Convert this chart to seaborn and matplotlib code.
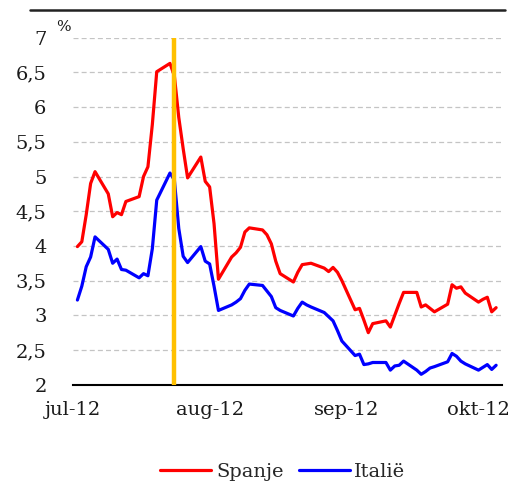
import pandas as pd
import matplotlib
matplotlib.use("Agg")
import matplotlib.pyplot as plt
import seaborn as sns
from matplotlib.lines import Line2D

# rente (%) per handelsdag, jul - okt 2012
dagen = pd.bdate_range("2012-07-02", "2012-10-05")

spanje = [
    3.99, 4.06, 4.45, 4.90, 5.07,
    4.75, 4.42, 4.48, 4.45, 4.64,
    4.71, 5.00, 5.14, 5.75, 6.51,
    6.63, 6.45, 5.85, 5.40, 4.98,
    5.28, 4.93, 4.85, 4.32, 3.52,
    3.84, 3.90, 3.98, 4.20, 4.26,
    4.23, 4.16, 4.03, 3.78, 3.60,
    3.48, 3.62, 3.73, 3.74, 3.75,
    3.68, 3.63, 3.69, 3.62, 3.50,
    3.08, 3.10, 2.93, 2.75, 2.88,
    2.92, 2.83, 3.00, 3.17, 3.33,
    3.33, 3.12, 3.15, 3.10, 3.05,
    3.16, 3.44, 3.39, 3.41, 3.32,
    3.19, 3.23, 3.26, 3.05, 3.11,
]

italie = [
    3.22, 3.42, 3.70, 3.84, 4.13,
    3.95, 3.75, 3.81, 3.66, 3.65,
    3.54, 3.60, 3.57, 3.96, 4.66,
    5.05, 4.95, 4.25, 3.85, 3.76,
    3.99, 3.78, 3.74, 3.42, 3.07,
    3.15, 3.19, 3.24, 3.36, 3.45,
    3.43, 3.35, 3.27, 3.11, 3.07,
    2.99, 3.10, 3.19, 3.15, 3.12,
    3.04, 2.98, 2.92, 2.78, 2.63,
    2.42, 2.44, 2.29, 2.30, 2.32,
    2.32, 2.21, 2.27, 2.28, 2.34,
    2.21, 2.15, 2.19, 2.24, 2.26,
    2.33, 2.45, 2.41, 2.34, 2.30,
    2.21, 2.25, 2.29, 2.22, 2.28,
]

landen = ["Spanje", "Italië"]
kleuren = ["#FF0000", "#0000FF"]
maand_ticks = ["2012-07-01", "2012-08-01", "2012-09-01", "2012-10-01"]
maand_labels = ["jul-12", "aug-12", "sep-12", "okt-12"]
y_ticks = [2, 2.5, 3, 3.5, 4, 4.5, 5, 5.5, 6, 6.5, 7]
y_labels = ["2", "2,5", "3", "3,5", "4", "4,5", "5", "5,5", "6", "6,5", "7"]
markering = "2012-07-24"

df = pd.DataFrame({
    "datum": list(dagen) * 2,
    "rente": spanje + italie,
    "land": [landen[0]] * len(dagen) + [landen[1]] * len(dagen),
})

sns.set_style("white")
plt.rcParams["font.family"] = ["DejaVu Serif"]

fig = plt.figure(figsize=(5.28, 4.87), dpi=100)
ax = fig.add_axes([73 / 528, 1 - 384.7 / 487, (502 - 73) / 528, (384.7 - 37.7) / 487])

for y in y_ticks[1:]:
    ax.axhline(y, color="#c4c4c4", lw=0.9, ls=(0, (4, 2.5)), zorder=0)

sns.lineplot(data=df, x="datum", y="rente", hue="land", palette=kleuren,
             linewidth=2.3, ax=ax, legend=False)

ax.axvline(pd.Timestamp(markering), color="#FFC000", lw=3.2, zorder=5)

ax.set_xlim(pd.Timestamp("2012-07-01"), pd.Timestamp("2012-10-06 08:00"))
ax.set_ylim(2, 7)
ax.set_xticks(pd.to_datetime(maand_ticks))
ax.set_xticklabels(maand_labels, fontsize=14, color="#1a1a1a")
ax.set_yticks(y_ticks)
ax.set_yticklabels(y_labels, fontsize=14, color="#1a1a1a")
ax.set_xlabel("")
ax.set_ylabel("")

for s in ["left", "right", "top"]:
    ax.spines[s].set_visible(False)
ax.spines["bottom"].set_color("black")
ax.spines["bottom"].set_linewidth(1.5)
ax.tick_params(axis="x", direction="out", length=6, width=1.3, color="black", pad=6)
ax.tick_params(axis="y", length=0, pad=19)

fig.text(63 / 528, 1 - 27 / 487, "%", fontsize=11, ha="center", va="center", color="#1a1a1a")

# lijn boven de grafiek
fig.add_artist(Line2D([30 / 528, 505 / 528], [1 - 9.5 / 487] * 2, color="#222222", lw=1.8))

handles = [Line2D([], [], color=c, lw=2.3) for c in kleuren]
fig.legend(handles, landen, loc="center", bbox_to_anchor=(283 / 528, 1 - 472 / 487),
           ncol=2, frameon=False, fontsize=14, handlelength=2.6, handletextpad=0.25,
           columnspacing=0.8)

plt.savefig("out.png", dpi=100)
